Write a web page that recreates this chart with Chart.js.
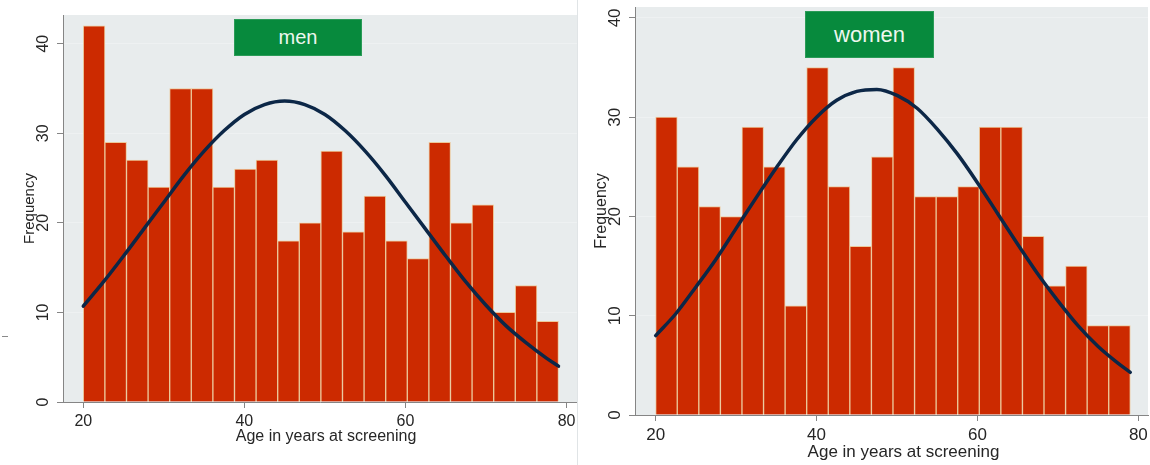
<!DOCTYPE html>
<html>
<head>
<meta charset="utf-8">
<title>Age at screening by sex</title>
<script src="https://cdn.jsdelivr.net/npm/chart.js@4.4.1/dist/chart.umd.min.js"></script>
<style>
  html, body { margin: 0; padding: 0; background: #fff; }
  #wrap { position: relative; width: 1150px; height: 465px; overflow: hidden; }
  #wrap canvas { position: absolute; top: 0; }
  #chart-men { left: 0; }
  #chart-women { left: 578px; }
  .divider { position: absolute; left: 577px; top: 0; width: 1px; height: 465px; background: #e0e4e6; }
  .nick { position: absolute; left: 2px; top: 336px; width: 6px; height: 1px; background: #8a8a8a; }
  .tag {
    position: absolute; background: #078a3d; color: #eef7ef;
    font-family: 'Liberation Sans', Arial, sans-serif;
    display: flex; align-items: center; justify-content: center;
    box-shadow: inset 0 0 0 1px #2a9b57;
  }
  #tag-men { left: 234px; top: 19px; width: 128px; height: 37px; font-size: 20px; }
  #tag-women { left: 805px; top: 11px; width: 129px; height: 47px; font-size: 22px; }
</style>
</head>
<body>
<div id="wrap">
  <canvas id="chart-men" width="578" height="465"></canvas>
  <canvas id="chart-women" width="572" height="465"></canvas>
  <div class="divider"></div>
  <div class="nick"></div>
  <div class="tag" id="tag-men">men</div>
  <div class="tag" id="tag-women">women</div>
</div>
<script>
// Age histograms (22 bins, 20–79 years) with a fitted normal curve per sex.

const AGE_TICKS = [20, 40, 60, 80];
const FREQ_TICKS = [0, 10, 20, 30, 40];

const BIN_START = 20;
const BIN_END = 79;
const BIN_COUNT = 22;

const menCounts = [42, 29, 27, 24, 35, 35, 24, 26, 27, 18, 20, 28, 19, 23, 18, 16, 29, 20, 22, 10, 13, 9];
const womenCounts = [30, 25, 21, 20, 29, 25, 11, 35, 23, 17, 26, 35, 22, 22, 23, 29, 29, 18, 13, 15, 9, 9];

// normal-density overlay, sampled along the age axis
const curveAges = [20, 22.5, 25, 27.5, 30, 32.5, 35, 37.5, 40, 42.5, 45, 47.5, 50,
  52.5, 55, 57.5, 60, 62.5, 65, 67.5, 70, 72.5, 75, 77.5, 79];
const menCurve = [10.7, 13.4, 16.3, 19.3, 22.3, 25.3, 28.0, 30.3, 32.1, 33.2, 33.6, 33.2, 32.1,
  30.3, 28.0, 25.3, 22.3, 19.3, 16.3, 13.4, 10.8, 8.5, 6.6, 4.9, 4.0];
const womenCurve = [8.0, 10.2, 12.9, 15.7, 18.8, 21.9, 24.9, 27.7, 30.0, 31.7, 32.6, 32.8, 32.2,
  30.9, 28.8, 26.3, 23.4, 20.3, 17.2, 14.2, 11.5, 9.0, 6.9, 5.2, 4.3];

const C = {
  plot: '#e8eced',
  grid: '#eef1f2',
  bar: '#cc2a00',
  barEdge: '#ecc89a',
  curve: '#0c2747',
  axis: '#858585',
  text: '#262626',
};
const FONT = "'Liberation Sans', Arial, Helvetica, sans-serif";

const Chart = window.Chart;
Chart.defaults.font.family = FONT;
Chart.defaults.color = C.text;

const binWidth = (BIN_END - BIN_START) / BIN_COUNT;
const binMid = (i) => BIN_START + (i + 0.5) * binWidth;

// grey plot region behind grid and bars
const plotBackground = {
  id: 'plotBackground',
  beforeDraw(chart) {
    const { ctx, chartArea: a } = chart;
    ctx.save();
    ctx.fillStyle = C.plot;
    ctx.fillRect(a.left, a.top, a.right - a.left, a.bottom - a.top);
    ctx.restore();
  },
};

// y tick labels read bottom-to-top; x title sits a little right of centre
const axisText = {
  id: 'axisText',
  afterDraw(chart, args, o) {
    const { ctx, chartArea: a } = chart;
    const y = chart.scales.y;
    ctx.save();
    ctx.fillStyle = C.text;
    ctx.font = `${o.tickSize}px ${FONT}`;
    ctx.textAlign = 'center';
    ctx.textBaseline = 'middle';
    y.ticks.forEach((t) => {
      ctx.save();
      ctx.translate(a.left - o.tickOffset, y.getPixelForValue(t.value));
      ctx.rotate(-Math.PI / 2);
      ctx.fillText(String(t.value), 0, 0);
      ctx.restore();
    });
    ctx.font = `${o.titleSize}px ${FONT}`;
    ctx.fillText(o.xTitle, (a.left + a.right) / 2 + o.titleShift, o.titleY);
    ctx.restore();
  },
};

function histogram(id, counts, curve, o) {
  const el = document.getElementById(id);
  return new Chart(el.getContext('2d'), {
    type: 'bar',
    data: {
      datasets: [
        {
          type: 'line',
          data: curveAges.map((a, i) => ({ x: a, y: curve[i] })),
          borderColor: C.curve,
          borderWidth: 3.5,
          borderCapStyle: 'round',
          pointRadius: 0,
          cubicInterpolationMode: 'monotone',
          order: 0,
        },
        {
          type: 'bar',
          data: counts.map((n, i) => ({ x: binMid(i), y: n })),
          backgroundColor: C.bar,
          borderColor: C.barEdge,
          borderWidth: 1,
          barPercentage: 1,
          categoryPercentage: 1,
          order: 1,
        },
      ],
    },
    options: {
      responsive: false,
      animation: false,
      events: [],
      layout: { padding: { top: o.top, right: o.right, left: 0, bottom: 0 } },
      plugins: {
        legend: { display: false },
        tooltip: { enabled: false },
        axisText: {
          tickSize: o.tickSize,
          tickOffset: o.tickOffset,
          titleSize: o.titleSize,
          xTitle: 'Age in years at screening',
          titleY: o.titleY,
          titleShift: o.titleShift,
        },
      },
      scales: {
        x: {
          type: 'linear',
          min: o.xMin,
          max: o.xMax,
          offset: false,
          grid: { offset: false, drawOnChartArea: false, tickLength: 6, tickColor: C.axis },
          border: { color: C.axis },
          ticks: { font: { size: o.tickSize }, color: C.text, padding: 4, maxRotation: 0, autoSkip: false },
          afterBuildTicks: (s) => { s.ticks = AGE_TICKS.map((v) => ({ value: v })); },
          afterFit: (s) => { s.height = o.xAxisHeight; s.paddingLeft = 0; s.paddingRight = 0; },
        },
        y: {
          type: 'linear',
          min: 0,
          max: o.yMax,
          grid: { color: C.grid, tickLength: 6, tickColor: C.axis },
          border: { color: C.axis },
          ticks: { display: false },
          afterBuildTicks: (s) => { s.ticks = FREQ_TICKS.map((v) => ({ value: v })); },
          afterFit: (s) => { s.width = o.yAxisWidth; s.paddingTop = 0; s.paddingBottom = 0; },
          title: {
            display: true,
            text: 'Frequency',
            color: C.text,
            font: { size: o.yTitleSize },
            padding: { top: o.yTitlePad, bottom: 0 },
          },
        },
      },
    },
    plugins: [plotBackground, axisText],
  });
}

histogram('chart-men', menCounts, menCurve, {
  top: 15, right: 1, xAxisHeight: 63, yAxisWidth: 63,
  xMin: 17.48, xMax: 81.3, yMax: 43.2,
  tickSize: 16, tickOffset: 19, titleSize: 16, titleY: 437, titleShift: 6,
  yTitleSize: 15, yTitlePad: 21,
});

histogram('chart-women', womenCounts, womenCurve, {
  top: 7, right: 2, xAxisHeight: 50, yAxisWidth: 57,
  xMin: 17.43, xMax: 81.2, yMax: 41.1,
  tickSize: 17, tickOffset: 20, titleSize: 17, titleY: 452, titleShift: 12,
  yTitleSize: 16, yTitlePad: 14.4,
});
</script>
</body>
</html>
